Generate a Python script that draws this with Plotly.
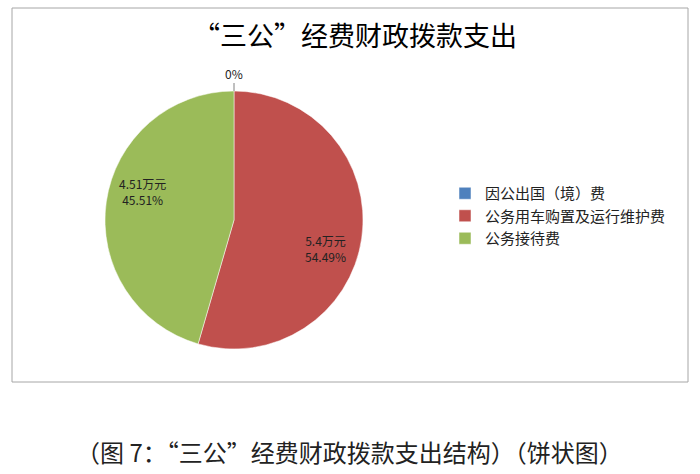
import math

import plotly.graph_objects as go

# 数据
categories = ["因公出国（境）费", "公务用车购置及运行维护费", "公务接待费"]
amounts = [0, 5.4, 4.51]  # 万元
percents = ["0%", "54.49%", "45.51%"]
colors = ["#4F81BD", "#C0504D", "#9BBB59"]

W, H = 700, 474
FONT = "Noto Sans CJK SC"

# 饼图位置（像素 -> paper）
cx, cy, r = 234, 220, 129
dom_x = [(cx - r) / W, (cx + r) / W]
dom_y = [1 - (cy + r) / H, 1 - (cy - r) / H]

fig = go.Figure(go.Pie(
    labels=categories,
    values=amounts,
    textinfo="none",
    marker=dict(colors=colors, line=dict(color="white", width=0.5)),
    sort=False,
    direction="clockwise",
    rotation=0,
    domain=dict(x=dom_x, y=dom_y),
    hoverinfo="label+value+percent",
))


def note(text, x, y, size, color="#222222"):
    # 像素坐标 -> paper，锚点固定在文字中心
    fig.add_annotation(text=text, xref="paper", yref="paper",
                       x=x / W, y=1 - y / H, xanchor="center", yanchor="middle",
                       showarrow=False, align="center",
                       font=dict(family=FONT, size=size, color=color))


# 扇区标签：按扇区角度放置（类似 Excel 的位置，略偏顺时针）
total = sum(amounts)
start = 0.0
for a, p in zip(amounts, percents):
    span = a / total * 360
    if a > 0:
        ang = math.radians(start + span / 2 + 9)
        px = cx + 0.74 * r * math.sin(ang)
        py = cy - 0.74 * r * math.cos(ang)
        note(f"{a:g}万元<br>{p}", px, py, 12)
    start += span

# 外框
fig.add_shape(type="rect", xref="paper", yref="paper",
              x0=12 / W, x1=688 / W, y0=1 - 382 / H, y1=1 - 8 / H,
              line=dict(color="#A6A6A6", width=1), fillcolor="rgba(0,0,0,0)")

# 0% 的引导线与标签
fig.add_shape(type="line", xref="paper", yref="paper",
              x0=cx / W, x1=cx / W, y0=1 - 83 / H, y1=1 - (cy - r) / H,
              line=dict(color="#808080", width=1))
note(percents[0], cx, 73, 12)

# 标题
note("“三公”经费财政拨款支出", 355, 35, 27, "#000000")

# 图注
note("（图 7：“三公”经费财政拨款支出结构）（饼状图）", 349, 451, 24)

fig.update_layout(
    width=W, height=H,
    margin=dict(l=0, r=0, t=0, b=0),
    paper_bgcolor="white",
    showlegend=True,
    legend=dict(x=445 / W, y=1 - 177 / H, xanchor="left", yanchor="top",
                font=dict(family=FONT, size=15, color="#222222"),
                itemwidth=30, tracegroupgap=2),
)

fig.write_html("out.html", config={"displayModeBar": False},
               post_script="document.body.style.margin='0';")
